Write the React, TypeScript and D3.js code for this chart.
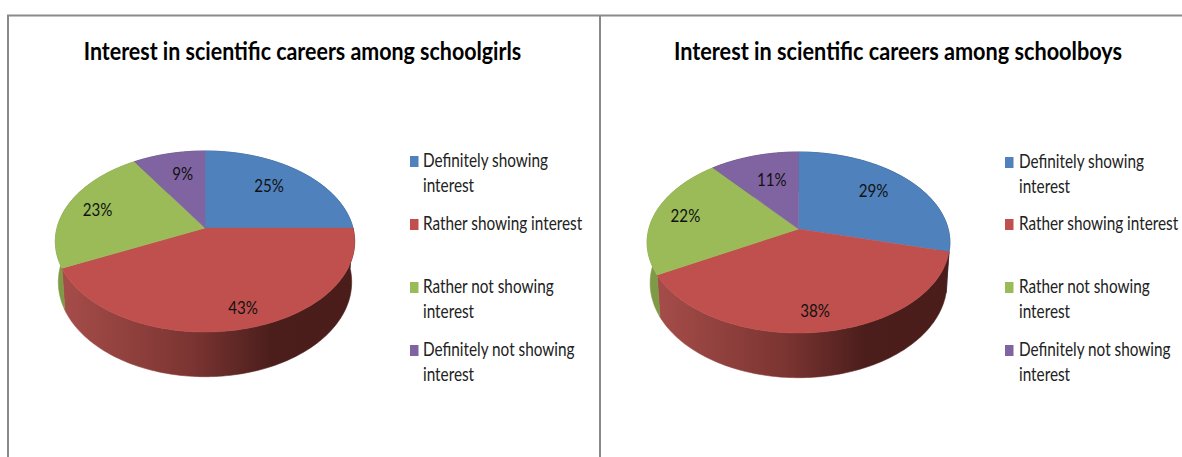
import React from "react";
import * as d3 from "d3";

const categories = [
  "Definitely showing interest",
  "Rather showing interest",
  "Rather not showing interest",
  "Definitely not showing interest",
];
const girlsValues = [25, 43, 23, 9];
const boysValues = [29, 38, 22, 11];
const girlsTitle = "Interest in scientific careers among schoolgirls";
const boysTitle = "Interest in scientific careers among schoolboys";
const colors = ["#4f81bd", "#c0504d", "#9bbb59", "#8064a2"];
const wallColors = ["#2c4a6e", "url(#GRAD)", "#7f9a45", "#4a3a60"];
const legendLines = [
  ["Definitely showing", "interest"],
  ["Rather showing interest"],
  ["Rather not showing", "interest"],
  ["Definitely not showing", "interest"],
];

const FONT = "Lato, Carlito, sans-serif";
const K = 0.149;
const B = 88.5;

type PieCfg = {
  id: string; values: number[]; title: string; titleX: number; titleScale: number;
  cx: number; cy: number; c: number; labelR: number[]; labelDx: number[];
  swX: number; textX: number; baselines: number[][];
};

function project(cfg: PieCfg, a: number, r = 1) {
  const u = Math.sin(a) * r;
  const v = -Math.cos(a) * r;
  const w = 1 - K * v;
  return { x: cfg.cx + (cfg.c * u) / w, y: cfg.cy + (B * v) / w, v: v / w };
}
function lower(cfg: PieCfg, a: number) {
  const p = project(cfg, a);
  return { x: cfg.cx + (p.x - cfg.cx) * 0.98, y: p.y + 40 + 4 * Math.max(p.v, 0) };
}
const line = d3.line<{ x: number; y: number }>().x((d) => d.x).y((d) => d.y);

function Pie({ cfg }: { cfg: PieCfg }) {
  const arcs = d3.pie<number>().sort(null)(cfg.values);
  const samples = (s: number, e: number) => d3.range(0, 121).map((i) => s + ((e - s) * i) / 120);
  const gradId = `g-${cfg.id}`;
  return (
    <g>
      <defs>
        <linearGradient id={gradId} gradientUnits="userSpaceOnUse" x1={cfg.cx - 150} x2={cfg.cx + 150} y1={0} y2={0}>
          <stop offset="0" stopColor="#a84e4b" />
          <stop offset="0.45" stopColor="#7c3532" />
          <stop offset="0.72" stopColor="#4b1e1c" />
          <stop offset="1" stopColor="#4a1d1b" />
        </linearGradient>
      </defs>
      {arcs.map((d, i) => {
        const as = samples(d.startAngle, d.endAngle);
        const top = as.map((a) => project(cfg, a));
        const bot = as.map((a) => lower(cfg, a)).reverse();
        const fill = wallColors[i].replace("GRAD", gradId);
        return <path key={i} d={line([...top, ...bot])! + "Z"} fill={fill} stroke={fill} strokeWidth={0.6} />;
      })}
      {arcs.map((d, i) => {
        const pts = samples(d.startAngle, d.endAngle).map((a) => project(cfg, a));
        return <path key={i} d={line([{ x: cfg.cx, y: cfg.cy }, ...pts])! + "Z"} fill={colors[i]} stroke={colors[i]} strokeWidth={0.5} />;
      })}
      {arcs.map((d, i) => {
        const p = project(cfg, (d.startAngle + d.endAngle) / 2, cfg.labelR[i]);
        return (
          <text key={i} transform={`translate(${p.x + cfg.labelDx[i]},${p.y + 6}) scale(0.84,1)`} textAnchor="middle"
            fontFamily={FONT} fontSize={18} fill="#111">{d.value}%</text>
        );
      })}
      <text transform={`translate(${cfg.titleX},60) scale(${cfg.titleScale},1)`} textAnchor="middle"
        fontFamily={FONT} fontWeight={700} fontSize={24} fill="#000">{cfg.title}</text>
      {categories.map((_, i) => (
        <g key={i}>
          <rect x={cfg.swX} y={cfg.baselines[i][0] - 11} width={8.5} height={11} fill={colors[i]} />
          {legendLines[i].map((t, j) => (
            <text key={j} transform={`translate(${cfg.textX},${cfg.baselines[i][j]}) scale(0.828,1)`}
              fontFamily={FONT} fontSize={18.5} fill="#222">{t}</text>
          ))}
        </g>
      ))}
    </g>
  );
}

const girls: PieCfg = {
  id: "girls", values: girlsValues, title: girlsTitle, titleX: 302.5, titleScale: 0.892,
  cx: 205, cy: 228, c: 148, labelR: [0.72, 0.82, 0.75, 0.7], labelDx: [-6, 8, -4, 4],
  swX: 410, textX: 423,
  baselines: [[167, 192], [230], [293, 318], [356, 381]],
};
const boys: PieCfg = {
  id: "boys", values: boysValues, title: boysTitle, titleX: 898, titleScale: 0.903,
  cx: 798.5, cy: 229, c: 149.7, labelR: [0.74, 0.82, 0.8, 0.64], labelDx: [-7, -1, 2, 3],
  swX: 1005, textX: 1019,
  baselines: [[168, 193], [230], [293, 318], [356, 381]],
};

export default function App() {
  return (
    <svg width={1182} height={457} style={{ position: "absolute", left: 0, top: 0, background: "#fff" }}>
      <path d="M8,457V15.5H1182" fill="none" stroke="#8a8a8a" strokeWidth={2} />
      <path d="M600,15V457" fill="none" stroke="#8a8a8a" strokeWidth={2} />
      <Pie cfg={girls} />
      <Pie cfg={boys} />
    </svg>
  );
}
